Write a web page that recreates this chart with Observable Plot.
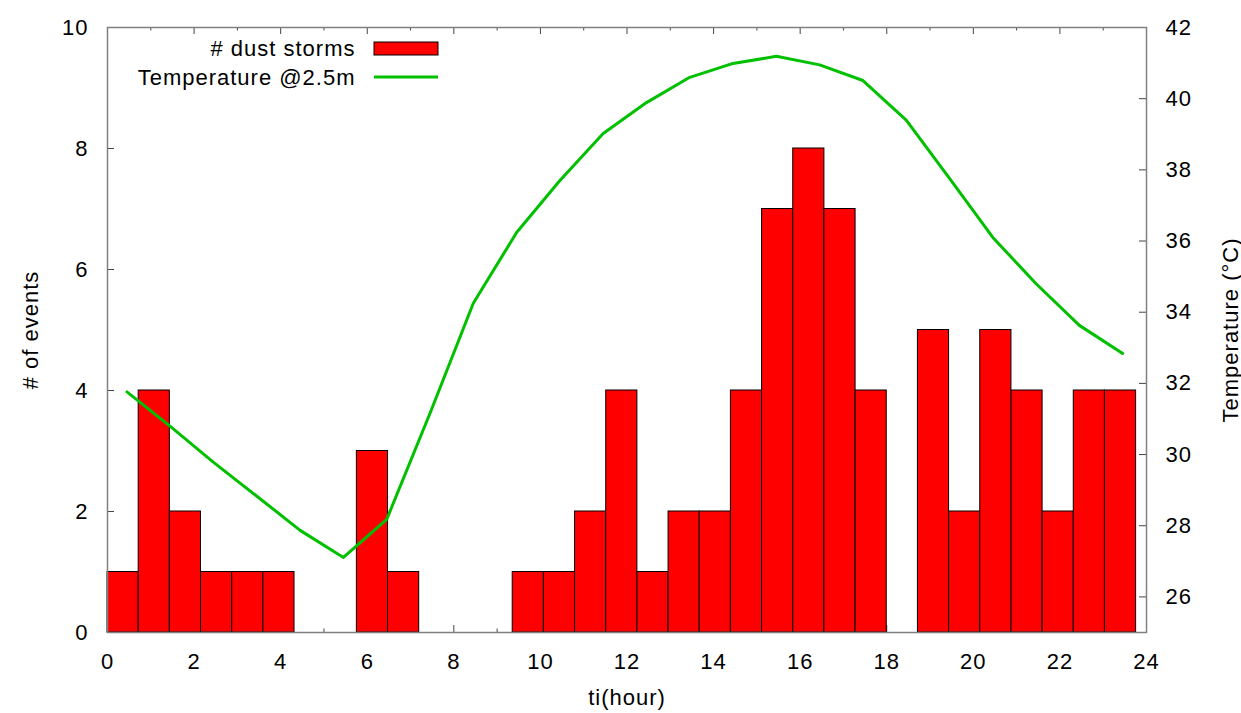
<!DOCTYPE html>
<html><head><meta charset="utf-8">
<script src="https://cdn.jsdelivr.net/npm/d3@7"></script>
<script src="https://cdn.jsdelivr.net/npm/@observablehq/plot@0.6"></script>
<style>body{margin:0;background:#fff}</style>
</head><body><div id="chart"></div>
<script>
// ---- data ----
const binWidth = 0.72; // hours per histogram bin
const stormCounts = [1,4,2,1,1,1,0,0,3,1,0,0,0,1,1,2,4,1,2,2,4,7,8,7,4,0,5,2,5,4,2,4,4];
const tempHours = [0.45,1.45,2.45,3.45,4.45,5.45,6.45,7.45,8.45,9.45,10.45,11.45,12.45,13.45,14.45,15.45,16.45,17.45,18.45,19.45,20.45,21.45,22.45,23.45];
const tempC = [31.76,30.79,29.78,28.83,27.87,27.11,28.18,31.16,34.25,36.24,37.70,39.02,39.89,40.60,40.99,41.19,40.95,40.51,39.40,37.76,36.10,34.80,33.63,32.84];
const xTickLabels = [0,2,4,6,8,10,12,14,16,18,20,22,24];
const xMinorTicks = [1,3,5,7,9,11,13,15,17,19,21,23];
const yTicks = [0,2,4,6,8,10];
const tempTicks = [26,28,30,32,34,36,38,40,42];
const tempDomain = [25,42];
const countDomain = [0,10];

// ---- layout ----
const W = 1241, H = 713, mL = 107, mR = 95, mT = 27, mB = 81;
const pw = W - mL - mR, ph = H - mT - mB;
const toY = t => (t - tempDomain[0]) / (tempDomain[1] - tempDomain[0]) * (countDomain[1] - countDomain[0]);

const bars = stormCounts.map((c, i) => ({x1: i * binWidth, x2: (i + 1) * binWidth, c})).filter(d => d.c > 0);
const temps = tempHours.map((h, i) => ({h, t: tempC[i]}));
const tickColor = "#444";

const svg = Plot.plot({
  width: W, height: H,
  marginLeft: mL, marginRight: mR, marginTop: mT, marginBottom: mB,
  style: {fontFamily: "'Liberation Sans', Arial, sans-serif", fontSize: "22px", color: "#000", background: "#fff", letterSpacing: "1px", overflow: "visible"},
  x: {domain: [0, 24]},
  y: {domain: countDomain},
  marks: [
    // inward ticks (behind bars)
    Plot.tickX(xTickLabels, {x: d => d, insetTop: ph - 7, stroke: tickColor}),
    Plot.tickX(xMinorTicks, {x: d => d, insetTop: ph - 3.5, stroke: tickColor}),
    Plot.tickX(xTickLabels, {x: d => d, insetBottom: ph - 7, stroke: tickColor}),
    Plot.tickX(xMinorTicks, {x: d => d, insetBottom: ph - 3.5, stroke: tickColor}),
    Plot.tickY(yTicks, {y: d => d, insetRight: pw - 7, stroke: tickColor}),
    Plot.tickY(tempTicks.map(toY), {y: d => d, insetLeft: pw - 7, stroke: tickColor}),
    // bars
    Plot.rect(bars, {x1: "x1", x2: "x2", y1: 0, y2: "c", fill: "#ff0000", stroke: "#000", strokeWidth: 1}),
    // temperature line (mapped onto right axis)
    Plot.line(temps, {x: "h", y: d => toY(d.t), stroke: "#00c000", strokeWidth: 3}),
    Plot.frame({stroke: "#808080", strokeWidth: 1.5}),
    // axes labels
    Plot.axisX({ticks: xTickLabels, tickSize: 0, tickPadding: 21, label: null}),
    Plot.axisY({ticks: yTicks, anchor: "left", tickSize: 0, tickPadding: 19, label: null}),
    Plot.axisY(tempTicks.map(toY), {anchor: "right", tickSize: 0, tickPadding: 19, label: null,
      tickFormat: (v) => String(Math.round(tempDomain[0] + v * (tempDomain[1] - tempDomain[0]) / (countDomain[1] - countDomain[0])))}),
    // titles
    Plot.text(["ti(hour)"], {frameAnchor: "bottom", dy: 65, text: d => d, textAnchor: "middle", lineAnchor: "middle"}),
    Plot.text(["# of events"], {frameAnchor: "left", dx: -77, rotate: -90, text: d => d, textAnchor: "middle", lineAnchor: "middle"}),
    Plot.text(["Temperature (°C)"], {frameAnchor: "right", dx: 84, rotate: -90, text: d => d, textAnchor: "middle", lineAnchor: "middle"}),
    // legend text
    Plot.text(["# dust storms"], {frameAnchor: "top-left", dx: 248, dy: 21, text: d => d, textAnchor: "end", lineAnchor: "middle"}),
    Plot.text(["Temperature @2.5m"], {frameAnchor: "top-left", dx: 248, dy: 50, text: d => d, textAnchor: "end", lineAnchor: "middle"})
  ]
});

// legend keys
const s = d3.select(svg);
s.append("rect").attr("x", mL + 267).attr("y", mT + 15).attr("width", 64).attr("height", 13)
  .attr("fill", "#ff0000").attr("stroke", "#000").attr("stroke-width", 1);
s.append("line").attr("x1", mL + 267).attr("x2", mL + 331).attr("y1", mT + 50).attr("y2", mT + 50)
  .attr("stroke", "#00c000").attr("stroke-width", 3);

document.getElementById("chart").appendChild(svg);
</script>
</body></html>
